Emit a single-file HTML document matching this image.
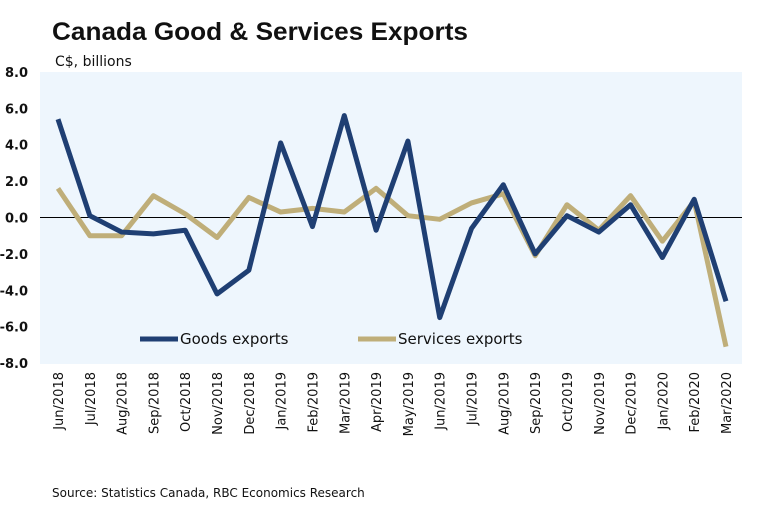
<!DOCTYPE html>
<html><head><meta charset="utf-8"><style>
body{margin:0;background:#fff;width:770px;height:506px;overflow:hidden;font-family:"DejaVu Sans","Liberation Sans",sans-serif}
text{font-family:"DejaVu Sans","Liberation Sans",sans-serif}
</style></head><body>
<svg id="c" width="770" height="506">
<text x="52" y="40" font-size="25" font-weight="bold" fill="#111" style="font-family:'Liberation Sans',sans-serif" textLength="416" lengthAdjust="spacingAndGlyphs">Canada Good &amp; Services Exports</text>
<text x="55" y="66" font-size="14" fill="#111">C$, billions</text>
<rect x="40" y="72" width="702" height="292" fill="#eef6fd"/>
<g id="ax"></g>
<text x="52" y="497" font-size="12" fill="#111">Source: Statistics Canada, RBC Economics Research</text>
</svg>
<script>
const categories=["Jun/2018","Jul/2018","Aug/2018","Sep/2018","Oct/2018","Nov/2018","Dec/2018","Jan/2019","Feb/2019","Mar/2019","Apr/2019","May/2019","Jun/2019","Jul/2019","Aug/2019","Sep/2019","Oct/2019","Nov/2019","Dec/2019","Jan/2020","Feb/2020","Mar/2020"];
const goods=[5.4,0.1,-0.8,-0.9,-0.7,-4.2,-2.9,4.1,-0.5,5.6,-0.7,4.2,-5.5,-0.6,1.8,-2.0,0.1,-0.8,0.7,-2.2,1.0,-4.6];
const services=[1.6,-1.0,-1.0,1.2,0.2,-1.1,1.1,0.3,0.5,0.3,1.6,0.1,-0.1,0.8,1.3,-2.1,0.7,-0.7,1.2,-1.3,0.9,-7.1];
const yTicks=[8,6,4,2,0,-2,-4,-6,-8];
const ns="http://www.w3.org/2000/svg";
const g=document.getElementById('ax');
const X=i=>58+i*(668/(categories.length-1));
const Y=v=>217.5-v*18.2;
function mk(t,a,txt){const e=document.createElementNS(ns,t);for(const k in a)e.setAttribute(k,a[k]);if(txt!=null)e.textContent=txt;g.appendChild(e);return e;}
yTicks.forEach(v=>{
const t=mk('text',{x:28,y:Y(v)+5,'font-size':13,'font-weight':'bold','text-anchor':'end',fill:'#111'},v.toFixed(1));


});
const z=mk('line',{x1:40,x2:742,y1:Y(0),y2:Y(0),stroke:'#000','stroke-width':1});


categories.forEach((c,i)=>{
const t=mk('text',{x:0,y:0,'font-size':13,'text-anchor':'end',fill:'#111',transform:`translate(${X(i)+5},372) rotate(-90)`},c);


});
function line(d,col,name){
const p=mk('polyline',{points:d.map((v,i)=>X(i)+','+Y(v)).join(' '),fill:'none',stroke:col,'stroke-width':5,'stroke-linejoin':'round'});


}
line(services,'#bfae79','services-exports-line');
line(goods,'#1f3f73','goods-exports-line');
const l1=mk('line',{x1:140,x2:178,y1:339,y2:339,stroke:'#1f3f73','stroke-width':5});


const t1=mk('text',{x:180,y:344,'font-size':15,fill:'#111'},'Goods exports');


const l2=mk('line',{x1:358,x2:396,y1:339,y2:339,stroke:'#bfae79','stroke-width':5});


const t2=mk('text',{x:398,y:344,'font-size':15,fill:'#111'},'Services exports');


</script>
</body></html>
